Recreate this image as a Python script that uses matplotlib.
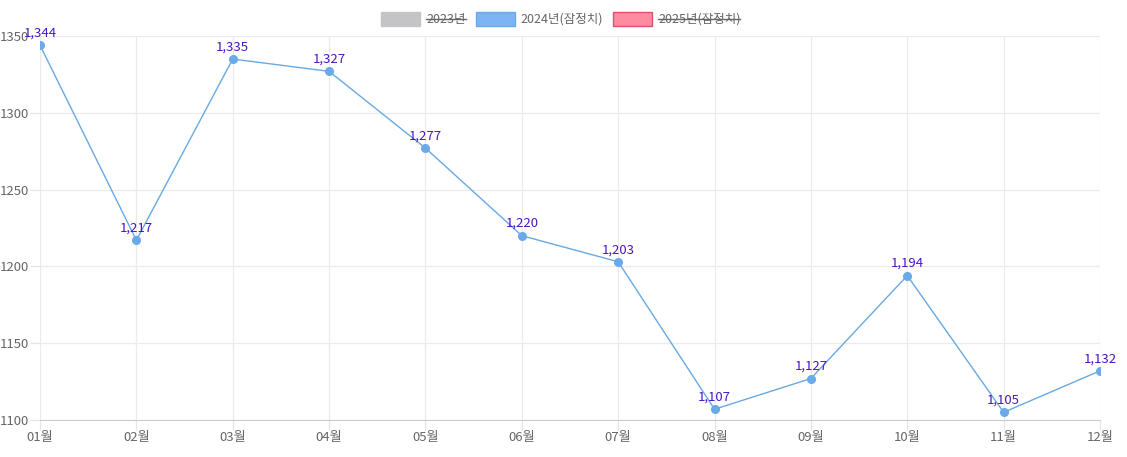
import matplotlib
matplotlib.use("Agg")
import matplotlib.pyplot as plt
from matplotlib.patches import Rectangle
from matplotlib.lines import Line2D

plt.rcParams['font.family'] = ['Noto Sans CJK KR', 'DejaVu Sans']

months = ['01월', '02월', '03월', '04월', '05월', '06월',
          '07월', '08월', '09월', '10월', '11월', '12월']
values_2024 = [1344, 1217, 1335, 1327, 1277, 1220, 1203, 1107, 1127, 1194, 1105, 1132]
y_ticks = [1100, 1150, 1200, 1250, 1300, 1350]

legend_labels = ['2023년', '2024년(잠정치)', '2025년(잠정치)']
legend_face = ['#c4c4c6', '#7cb5f2', '#ff8ba0']
legend_edge = ['#c4c4c6', '#6aa8ec', '#e0506e']
legend_hidden = [True, False, True]

W, H = 1127, 457
fig = plt.figure(figsize=(W / 100, H / 100), dpi=100)
ax = fig.add_axes([40 / W, 1 - 420 / H, 1060 / W, 384 / H])

x = list(range(len(months)))
ax.plot(x, values_2024, color='#68a9e2', lw=1, marker='o', ms=5.5,
        markerfacecolor='#6aaae8', markeredgecolor='#6aaae8', zorder=3)

for xi, v in zip(x, values_2024):
    ax.annotate(f'{v:,}', (xi, v), xytext=(0, 4), textcoords='offset points',
                ha='center', va='bottom', fontsize=9.5, color='#4a14c8', zorder=4)

ax.set_xlim(0, len(months) - 1)
ax.set_ylim(1100, 1350)
ax.set_xticks(x)
ax.set_xticklabels(months)
ax.set_yticks(y_ticks)
ax.grid(True, color='#ebebeb', lw=0.9)
ax.set_axisbelow(True)
for side in ['top', 'right', 'left']:
    ax.spines[side].set_visible(False)
ax.spines['bottom'].set_color('#cccccc')
ax.tick_params(axis='both', colors='#e6e6e6', labelcolor='#666666',
               labelsize=9.5, length=7, width=0.9)
ax.tick_params(axis='x', pad=1)
ax.tick_params(axis='y', pad=1)

# legend drawn by hand at the top
fig.canvas.draw()
renderer = fig.canvas.get_renderer()
box_w, box_h = 39, 14
x0 = 381
yc = 19
for lab, fc, ec, hid in zip(legend_labels, legend_face, legend_edge, legend_hidden):
    fig.patches.append(Rectangle((x0 / W, 1 - (yc + box_h / 2) / H), box_w / W, box_h / H,
                                 transform=fig.transFigure, facecolor=fc,
                                 edgecolor=ec, lw=1))
    t = fig.text((x0 + box_w + 6) / W, 1 - yc / H, lab, fontsize=9,
                 color='#666666', va='center', ha='left')
    bb = t.get_window_extent(renderer)
    if hid:
        fig.lines.append(Line2D([bb.x0 / W, bb.x1 / W], [1 - yc / H, 1 - yc / H],
                                transform=fig.transFigure, color='#666666', lw=1))
    x0 = bb.x1 + 10

fig.savefig('out.png', dpi=100)
